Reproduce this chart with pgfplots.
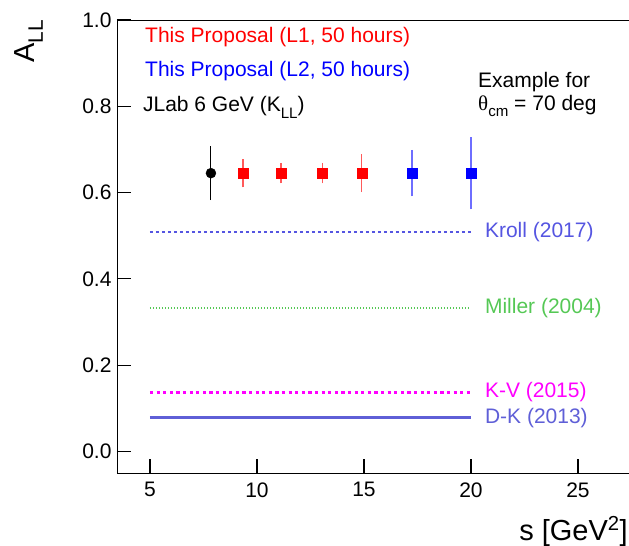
\documentclass[border=0pt]{standalone}
\usepackage{fontspec}
\setmainfont{Liberation Sans}
\newfontfamily\symfont{Liberation Serif}
\usepackage{pgfplots}
\pgfplotsset{compat=1.18}
\definecolor{krollc}{RGB}{85,85,225}
\definecolor{dkc}{RGB}{95,95,215}
\definecolor{millerc}{RGB}{85,200,85}
\definecolor{kvc}{RGB}{255,0,255}
\definecolor{lred}{RGB}{255,90,90}
\definecolor{lblue}{RGB}{110,110,255}
\newcommand\rsub[1]{\raisebox{-0.3em}{\scalebox{0.72}{#1}}}
\newcommand\fsz{\fontsize{21}{25}\selectfont}
\begin{document}
\begin{tikzpicture}
\begin{axis}[
  at={(0,0)}, anchor=south west,
  scale only axis, width=514pt, height=453pt,
  xmin=3.46, xmax=27.48, ymin=-0.05, ymax=1.0,
  xtick={5,10,15,20,25}, ytick={0,0.2,0.4,0.6,0.8,1.0},
  yticklabel style={xshift=-2pt, /pgf/number format/fixed, /pgf/number format/fixed zerofill, /pgf/number format/precision=1},
  /pgf/number format/assume math mode=true,
  tick align=inside, xtick pos=left, ytick pos=left, major tick length=14pt, minor tick num=0,
  axis line style={line width=0.8pt, black},
  xtick style={line width=1.3pt, black},
  ytick style={line width=1pt, black},
  tick label style={font=\fsz},
  xticklabel style={yshift=-6pt},
  clip=false,
]
% models
\addplot[krollc, line width=2pt, dash pattern=on 3pt off 3pt] coordinates {(5,0.509) (20,0.509)};
\addplot[millerc, line width=1.6pt, dash pattern=on 1.5pt off 1.5pt] coordinates {(5,0.333) (20,0.333)};
\addplot[kvc, line width=3pt, dash pattern=on 3.3pt off 3.3pt] coordinates {(5,0.137) (20,0.137)};
\addplot[dkc, line width=3pt] coordinates {(5,0.078) (20,0.078)};
% data
\addplot[black, only marks, mark=*, mark size=5pt,
  error bars/.cd, y dir=both, y explicit,
  error bar style={black, line width=1pt}, error mark options={black, mark size=1.6pt, line width=1pt}]
  coordinates {(7.85,0.645) +- (0,0.059)};
\addplot[red, only marks, mark=square*, mark size=5pt,
  error bars/.cd, y dir=both, y explicit,
  error bar style={lred, line width=1.2pt}, error mark options={lred, mark size=1.6pt, line width=1.2pt}]
  coordinates {(9.35,0.645) +- (0,0.029) (11.12,0.645) +- (0,0.020) (13.05,0.645) +- (0,0.020) (14.9,0.645) +- (0,0.040)};
\addplot[blue, only marks, mark=square*, mark size=5pt,
  error bars/.cd, y dir=both, y explicit,
  error bar style={lblue, line width=1.2pt}, error mark options={lblue, mark size=1.6pt, line width=1.2pt}]
  coordinates {(17.25,0.645) +- (0,0.050) (20.0,0.645) +- (0,0.080)};
% texts
\node[anchor=base west, red, font=\fsz, inner sep=0pt] at (axis cs:4.77,0.947) {This Proposal (L1, 50 hours)};
\node[anchor=base west, blue, font=\fsz, inner sep=0pt] at (axis cs:4.77,0.868) {This Proposal (L2, 50 hours)};
\node[anchor=base west, black, font=\fsz, inner sep=0pt] at (axis cs:4.67,0.787) {JLab 6 GeV (K\rsub{LL})};
\node[anchor=base west, black, font=\fsz, inner sep=0pt] at (axis cs:20.33,0.843) {Example for};
\node[anchor=base west, black, font=\fsz, inner sep=0pt] at (axis cs:20.33,0.79) {{\symfont θ}\rsub{cm} = 70 deg};
\node[anchor=west, krollc, font=\fsz, inner sep=0pt] at (axis cs:20.65,0.509) {Kroll (2017)};
\node[anchor=west, millerc, font=\fsz, inner sep=0pt] at (axis cs:20.65,0.333) {Miller (2004)};
\node[anchor=west, kvc, font=\fsz, inner sep=0pt] at (axis cs:20.65,0.137) {K-V (2015)};
\node[anchor=west, dkc, font=\fsz, inner sep=0pt] at (axis cs:20.65,0.078) {D-K (2013)};
% axis titles
\node[rotate=90, anchor=south east, inner sep=0pt, font=\fontsize{29}{33}\selectfont] at ([xshift=-74pt]rel axis cs:0,1) {A\rsub{LL}};
\node[anchor=base east, inner sep=0pt, font=\fontsize{29}{33}\selectfont] at ([yshift=-67pt, xshift=-3pt]rel axis cs:1,0) {s [GeV\textsuperscript{2}]};
\end{axis}
\pgfresetboundingbox
\path (-117pt,-73pt) rectangle (512pt,473pt);
\end{tikzpicture}
\end{document}
